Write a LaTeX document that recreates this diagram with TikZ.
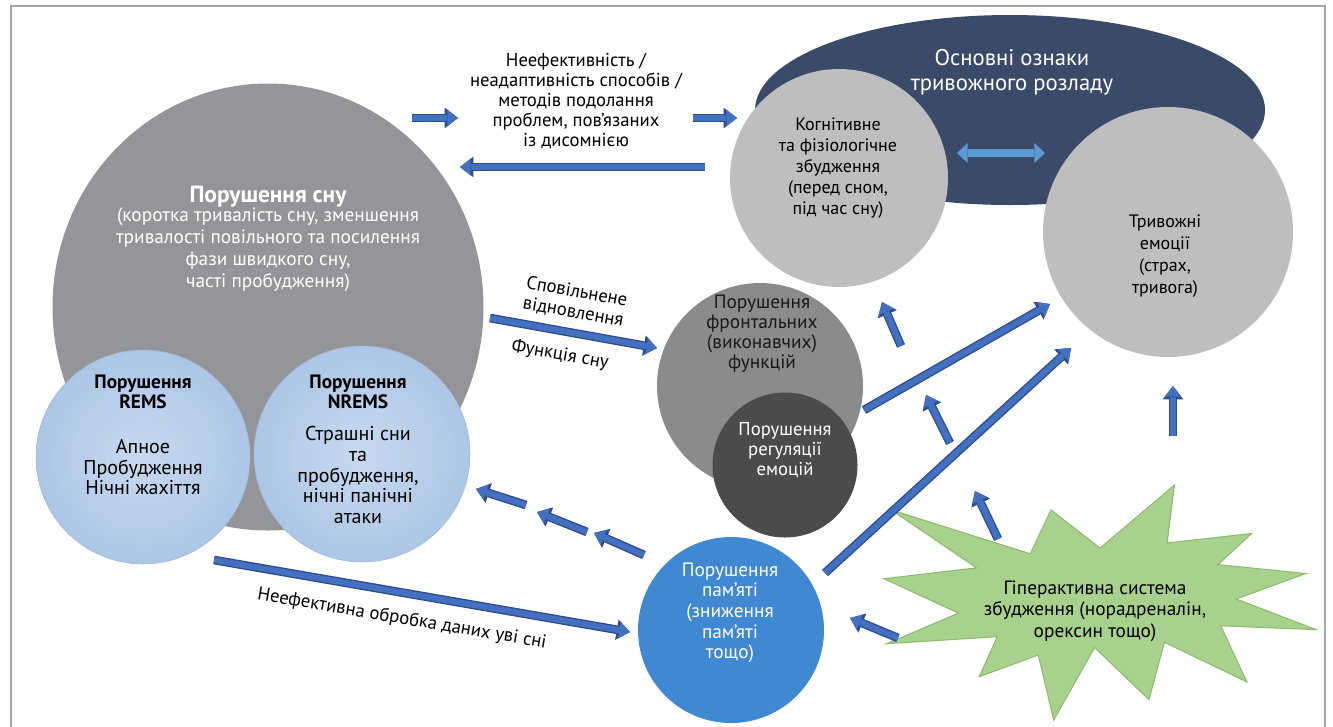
\documentclass[tikz,border=0pt]{standalone}
\usepackage{fontspec}
\setmainfont{PT Sans}
\usetikzlibrary{arrows.meta,shapes.geometric}

\definecolor{sleepgray}{HTML}{949598}
\definecolor{remsblue}{HTML}{ADC6E6}
\definecolor{remslight}{HTML}{C8D9EF}
\definecolor{remsedge}{HTML}{9DB8DC}
\definecolor{coregray}{HTML}{BEBEBF}
\definecolor{corenavy}{HTML}{3B4A68}
\definecolor{frontgray}{HTML}{8B8B8B}
\definecolor{emodark}{HTML}{4B4B4B}
\definecolor{memblue}{HTML}{4088D2}
\definecolor{stargreen}{HTML}{A9D18E}
\definecolor{staredge}{HTML}{8DBB6E}
\definecolor{arrowblue}{HTML}{4470C0}
\definecolor{arrowedge}{HTML}{2D4C8C}
\definecolor{linkblue}{HTML}{5B9BD5}
\definecolor{framegray}{HTML}{A6A6A6}

\tikzset{
  blob/.style={circle, inner sep=0pt},
  txt/.style={align=center, inner sep=0pt, font=\fontsize{14}{15}\selectfont},
  blk/.style={draw=arrowblue, line width=4.5pt, -{Triangle[length=8pt,width=12.5pt,line width=0pt]},
    preaction={draw=arrowedge, line width=6.5pt, -{Triangle[length=10pt,width=15.5pt,line width=0pt]}}},
  lnk/.style={draw=linkblue, line width=6pt, {Triangle[length=8pt,width=15pt,line width=0pt]}-{Triangle[length=8pt,width=15pt,line width=0pt]}}
}

\begin{document}
\begin{tikzpicture}[x=0.75pt,y=-0.75pt]
  \useasboundingbox (0,0) rectangle (1333,726);
  % frame
  \draw[framegray, line width=1.5pt] (11,730) -- (11,6) -- (1325,6) -- (1325,730);
  % sleep disturbance
  \node[ellipse, inner sep=0pt, fill=sleepgray, minimum width=323.25pt, minimum height=335.25pt] (sleep) at (268,307) {};
  \node[txt, text=white, font=\bfseries\fontsize{17.5}{20}\selectfont] (sleeptitle) at (268,197) {Порушення сну};
  \node[txt, text=white, font=\fontsize{14.5}{16.5}\selectfont] (sleepsub) at (268,250) {(коротка тривалість сну, зменшення\\тривалості повільного та посилення\\фази швидкого сну,\\часті пробудження)};
  \node[blob, shade, inner color=remslight, outer color=remsblue, draw=remsedge, minimum size=160.5pt] (rems) at (143,457) {};
  \node[txt, font=\bfseries\fontsize{14.5}{15}\selectfont] (remshead) at (143,392) {Порушення\\REMS};
  \node[txt, font=\fontsize{15}{15.5}\selectfont] (remsbody) at (143,467) {Апное\\Пробудження\\Нічні жахіття};
  \node[blob, shade, inner color=remslight, outer color=remsblue, draw=remsedge, minimum size=162pt] (nrems) at (362,454) {};
  \node[txt, font=\bfseries\fontsize{14.5}{15}\selectfont] (nremshead) at (358,392) {Порушення\\NREMS};
  \node[txt, font=\fontsize{15}{15.5}\selectfont] (nremsbody) at (358,475) {Страшні сни\\та\\пробудження,\\нічні панічні\\атаки};
  % core features of anxiety disorder
  \node[ellipse, inner sep=0pt, fill=corenavy, minimum width=382.5pt, minimum height=142.5pt] (core) at (1010,110) {};
  \node[txt, text=white, font=\fontsize{17}{19}\selectfont] (coretxt) at (1012,72) {Основні ознаки\\тривожного розладу};
  \node[blob, fill=coregray, minimum size=163.5pt] (arousal) at (839,178) {};
  \node[txt, font=\fontsize{13.5}{15.75}\selectfont] (arousaltxt) at (838,168) {Когнітивне\\та фізіологічне\\збудження\\(перед сном,\\під час сну)};
  \node[blob, fill=coregray, minimum size=187.5pt] (emotion) at (1168,232) {};
  \node[txt, font=\fontsize{13.5}{16.5}\selectfont] (emotiontxt) at (1165,256) {Тривожні\\емоції\\(страх,\\тривога)};
  % frontal functions
  \node[blob, fill=frontgray, minimum size=154.5pt] (frontal) at (760,386) {};
  \node[txt, text=black!90, font=\fontsize{14.5}{15}\selectfont] (frontaltxt) at (762,334) {Порушення\\фронтальних\\(виконавчих)\\функцій};
  \node[blob, fill=emodark, minimum size=108.75pt] (emoreg) at (785,465) {};
  \node[txt, text=white] (emoregtxt) at (785,450) {Порушення\\регуляції\\емоцій};
  % memory
  \node[blob, fill=memblue, minimum size=139.5pt] (memory) at (731,630) {};
  \node[txt, text=white, font=\fontsize{14.5}{15.5}\selectfont] (memorytxt) at (730,613) {Порушення\\пам’яті\\(зниження\\пам’яті\\тощо)};
  % hyperactive arousal system
  \begin{scope}[shift={(884,485)}, x=1.5pt, y=-0.816pt]
    \draw[fill=stargreen, draw=staredge, line width=0.8pt] (108,58) -- (145.22,0) -- (141.55,53.25) -- (183.8,44.57) -- (167.02,73.15) -- (210.97,81.37) -- (176.07,104.75) -- (216,132.9) -- (168.37,129.42) -- (181.45,180.95) -- (140.2,144.57) -- (132.47,197.37) -- (105.32,149.35) -- (84.85,216) -- (77.15,156.27) -- (47.62,176.17) -- (56.67,139.37) -- (1.35,145.87) -- (37.22,117.75) -- (0,86.15) -- (46.27,76.17) -- (3.7,22.95) -- (73.12,63.2) -- (83.52,22.95) -- cycle;
  \end{scope}
  \node[txt, font=\fontsize{14.5}{16}\selectfont] (hyper) at (1095,611) {Гіперактивна система\\збудження (норадреналін,\\орексин тощо)};
  % labels
  \node[txt] (cope) at (576,101) {Неефективність /\\неадаптивність способів /\\методів подолання\\проблем, пов’язаних\\із дисомнією};
  \node[txt, rotate=-10, font=\fontsize{14}{15.5}\selectfont] (slow) at (575,302) {Сповільнене\\відновлення};
  \node[txt, rotate=-10] (func) at (560,355) {Функція сну};
  \node[txt, rotate=-9.5] (proc) at (402,619) {Неефективна обробка даних уві сні};
  % arrow ends
  \coordinate (c1a) at (412,118); \coordinate (c1b) at (458,118);
  \coordinate (c2a) at (693,118); \coordinate (c2b) at (737,118);
  \coordinate (c3a) at (705,167); \coordinate (c3b) at (460,167);
  \coordinate (s1) at (490,318); \coordinate (s2) at (657,348);
  \coordinate (m1) at (644,555); \coordinate (m2) at (594,533);
  \coordinate (m3) at (587,532); \coordinate (m4) at (537,512);
  \coordinate (m5) at (526,505); \coordinate (m6) at (476,489);
  \coordinate (p1) at (214,560); \coordinate (p2) at (630,632);
  \coordinate (h1) at (898,638); \coordinate (h2) at (850,618);
  \coordinate (h3) at (998,539); \coordinate (h4) at (975,491);
  \coordinate (h5) at (1173,436); \coordinate (h6) at (1173,386);
  \coordinate (e1) at (825,573); \coordinate (e2) at (1071,348);
  \coordinate (f1) at (864,410); \coordinate (f2) at (1050,304);
  \coordinate (u1) at (901,346); \coordinate (u2) at (882,302);
  \coordinate (u3) at (950,443); \coordinate (u4) at (926,395);
  \coordinate (d1) at (957,153); \coordinate (d2) at (1045,153);
  % arrows
  \draw[blk] (c1a) -- (c1b); \draw[blk] (c2a) -- (c2b); \draw[blk] (c3a) -- (c3b);
  \draw[blk] (s1) -- (s2);
  \draw[blk] (m1) -- (m2); \draw[blk] (m3) -- (m4); \draw[blk] (m5) -- (m6);
  \draw[blk] (p1) -- (p2);
  \draw[blk] (h1) -- (h2); \draw[blk] (h3) -- (h4); \draw[blk] (h5) -- (h6);
  \draw[blk] (e1) -- (e2); \draw[blk] (f1) -- (f2);
  \draw[blk] (u1) -- (u2); \draw[blk] (u3) -- (u4);
  \draw[lnk] (d1) -- (d2);
\end{tikzpicture}
\end{document}
